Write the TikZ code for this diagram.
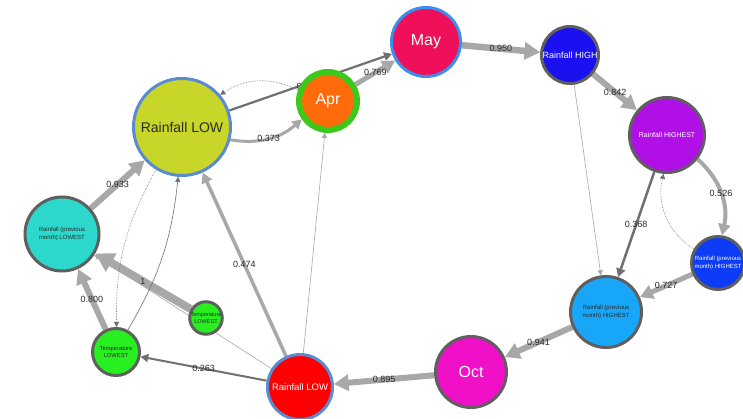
\documentclass[tikz,border=0pt]{standalone}
\usepackage{fontspec}
\setmainfont{Liberation Sans}
\usepackage{xcolor}
\usepackage{tikz}
\usetikzlibrary{arrows.meta}
\usetikzlibrary{backgrounds}

\definecolor{edgelight}{HTML}{A8A8A8}
\definecolor{edgedark}{HTML}{707070}
\definecolor{bordergray}{HTML}{5F5F5F}
\definecolor{textdark}{HTML}{2A2A2A}
\definecolor{lowblue}{HTML}{5A8AD0}
\definecolor{lowyellow}{HTML}{C8D62A}
\definecolor{aprgreen}{HTML}{3CC81A}
\definecolor{aprorange}{HTML}{FF6A0A}
\definecolor{mayblue}{HTML}{3A8EF0}
\definecolor{maypink}{HTML}{F0105A}
\definecolor{highblue}{HTML}{1A10F0}
\definecolor{highestpurple}{HTML}{B010E6}
\definecolor{prevhighdark}{HTML}{0C3CF5}
\definecolor{prevhighlight}{HTML}{18A6F8}
\definecolor{octmagenta}{HTML}{F010C8}
\definecolor{lowred}{HTML}{FF0000}
\definecolor{tempgreen}{HTML}{28F020}
\definecolor{prevlowteal}{HTML}{2CD8CC}

\begin{document}
\begin{tikzpicture}[x=1pt,y=-1pt]
    \tikzstyle{vertex}=[circle,inner sep=0pt,line width=3pt,draw=bordergray,align=center,text=textdark]
    \tikzstyle{big text}=[font=\fontsize{16}{18}\selectfont,text=white]
    \tikzstyle{tiny text}=[font=\fontsize{6}{7.5}\selectfont]
    \tikzstyle{link}=[draw=edgelight,-{Triangle[length=4pt 1.8,width=4pt 2]}]
    \tikzstyle{link dark}=[link,draw=edgedark]
    \tikzstyle{link dotted}=[link,draw=edgedark,densely dotted,line width=0.6pt]
    \tikzstyle{weight}=[font=\fontsize{9}{9}\selectfont,text=textdark,inner sep=0pt]

    \useasboundingbox (0,0) rectangle (743,419);

    % Months
    \node[vertex,draw=aprgreen,line width=6pt,fill=aprorange,minimum size=58pt,style=big text] (apr) at (328,101) {Apr};
    \node[vertex,draw=mayblue,fill=maypink,minimum size=69pt,style=big text] (may) at (426,42) {May};
    \node[vertex,fill=octmagenta,minimum size=71pt,style=big text] (oct) at (471,372) {Oct};

    % Rainfall
    \node[vertex,draw=lowblue,fill=lowyellow,minimum size=97pt,font=\fontsize{14}{16}\selectfont] (rainLow) at (182,127) {Rainfall LOW};
    \node[vertex,draw=lowblue,fill=lowred,minimum size=65pt,font=\fontsize{9.5}{11}\selectfont,text=white] (rainLowRed) at (300,387) {Rainfall LOW};
    \node[vertex,fill=highblue,minimum size=57pt,font=\fontsize{9}{11}\selectfont,text=white] (rainHigh) at (570,55) {Rainfall HIGH};
    \node[vertex,fill=highestpurple,minimum size=75pt,font=\fontsize{7}{9}\selectfont,text=white] (rainHighest) at (667,135) {Rainfall HIGHEST};
    \node[vertex,fill=prevhighdark,minimum size=53pt,style=tiny text,text=white] (prevHighDark) at (718,263) {Rainfall (previous\\month) HIGHEST};
    \node[vertex,fill=prevhighlight,minimum size=71pt,style=tiny text] (prevHigh) at (606,312) {Rainfall (previous\\month) HIGHEST};
    \node[vertex,fill=prevlowteal,minimum size=74pt,style=tiny text] (prevLow) at (62,234) {Rainfall (previous\\month) LOWEST};

    % Temperature
    \node[vertex,fill=tempgreen,minimum size=29pt,font=\fontsize{5.5}{6.5}\selectfont] (tempSmall) at (206,318) {Temperature\\LOWEST};
    \node[vertex,fill=tempgreen,minimum size=47pt,font=\fontsize{5.8}{7}\selectfont] (temp) at (116,352) {Temperature\\LOWEST};

    \begin{scope}[on background layer]
    \fill[white] (0,0) rectangle (743,419);

    % Top
	\draw[style=link dark,line width=2.2pt] (rainLow) -- node[style=weight,pos=0.43] {0} (may);
	\draw[style=link,line width=5pt] (apr) -- node[style=weight] {0.769} (may);
	\draw[style=link dotted] (apr) to[bend right=30] (rainLow);
	\draw[style=link,line width=3pt] (rainLow) to[bend right=25] node[style=weight] {0.373} (apr);
	\draw[style=link,line width=6.5pt] (may) -- node[style=weight] {0.950} (rainHigh);
	\draw[style=link,line width=6pt] (rainHigh) -- node[style=weight] {0.842} (rainHighest);

    % Right
	\draw[style=link,line width=0.6pt] (rainHigh) -- (prevHigh);
	\draw[style=link,line width=4pt] (rainHighest) to[bend left=30] node[style=weight] {0.526} (prevHighDark);
	\draw[style=link dotted] (prevHighDark.150) to[bend left=35] (rainHighest.265);
	\draw[style=link dark,line width=2.5pt] (rainHighest) -- node[style=weight] {0.368} (prevHigh);
	\draw[style=link,line width=5pt] (prevHighDark) -- node[style=weight] {0.727} (prevHigh);

    % Bottom
	\draw[style=link,line width=6pt] (prevHigh) -- node[style=weight] {0.941} (oct);
	\draw[style=link,line width=6pt] (oct) -- node[style=weight] {0.895} (rainLowRed);
	\draw[style=link,line width=3.5pt] (rainLowRed) -- node[style=weight] {0.474} (rainLow);
	\draw[style=link,line width=0.6pt] (rainLowRed) -- (apr);
	\draw[style=link dark,line width=2pt] (rainLowRed) -- node[style=weight] {0.263} (temp);
	\draw[style=link,line width=0.6pt] (rainLowRed) -- (prevLow);

    % Left
	\draw[style=link,line width=8pt] (tempSmall) -- node[style=weight] {1} (prevLow);
	\draw[style=link,line width=6pt] (temp) -- node[style=weight] {0.800} (prevLow);
	\draw[style=link,line width=6pt] (prevLow) -- node[style=weight] {0.933} (rainLow);
	\draw[style=link dotted] (rainLow) to[bend right=15] (temp);
	\draw[style=link dark,line width=0.6pt] (temp) to[bend right=12] (rainLow);
    \end{scope}
\end{tikzpicture}
\end{document}
